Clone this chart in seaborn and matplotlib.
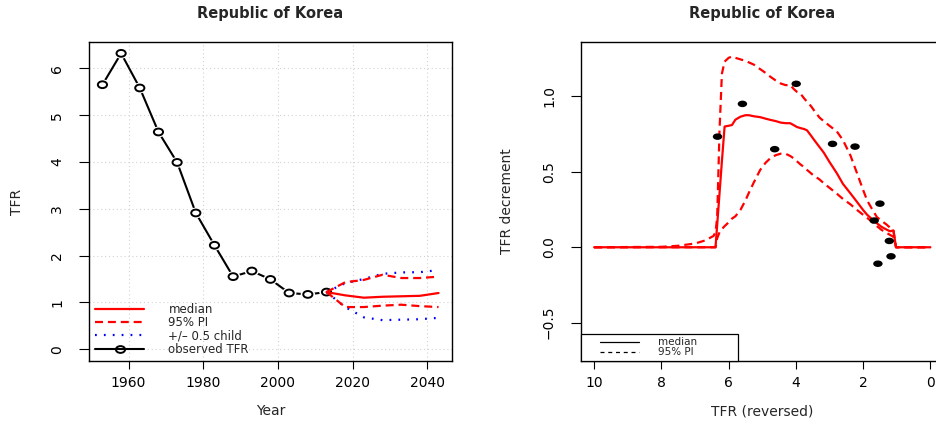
import matplotlib
matplotlib.use("Agg")
import matplotlib.pyplot as plt
from matplotlib.lines import Line2D
from matplotlib.markers import MarkerStyle
from matplotlib.transforms import Affine2D
from matplotlib.legend_handler import HandlerLine2D
import pandas as pd
import seaborn as sns

# ---- observed total fertility rate (five-year periods) ----
obs_years = [1953, 1958, 1963, 1968, 1973, 1978, 1983, 1988, 1993, 1998, 2003, 2008, 2013]
obs_tfr = [5.65, 6.32, 5.58, 4.64, 3.99, 2.91, 2.22, 1.55, 1.67, 1.49, 1.20, 1.17, 1.22]

# ---- projection ----
proj_years = [2013, 2018, 2023, 2028, 2033, 2038, 2043]
proj_median = [1.22, 1.15, 1.10, 1.12, 1.13, 1.14, 1.20]
proj_pi_low = [1.22, 0.90, 0.90, 0.93, 0.95, 0.92, 0.90]
proj_pi_high = [1.22, 1.43, 1.48, 1.59, 1.52, 1.52, 1.55]
proj_half_low = [1.22, 0.90, 0.68, 0.62, 0.63, 0.64, 0.67]
proj_half_high = [1.22, 1.41, 1.50, 1.61, 1.64, 1.645, 1.69]

# ---- decrement function on a TFR grid ----
dl_tfr = [10.0, 8.0, 7.5, 7.0, 6.7, 6.45, 6.39, 6.34, 6.27, 6.2, 6.12, 6.0, 5.9, 5.8,
          5.65, 5.5, 5.4, 5.25, 5.06, 4.9, 4.76, 4.6, 4.45, 4.3, 4.17, 4.07, 3.97,
          3.87, 3.75, 3.67, 3.55, 3.47, 3.3, 3.17, 3.0, 2.78, 2.6, 2.38, 2.18, 2.0,
          1.88, 1.7, 1.59, 1.45, 1.3, 1.2, 1.1, 1.02, 0.9, 0.0]
dl_median = [0, 0, 0, 0, 0, 0, 0, 0.15, 0.36, 0.57, 0.80, 0.805, 0.81, 0.845,
             0.865, 0.875, 0.875, 0.868, 0.862, 0.852, 0.844, 0.836, 0.826, 0.822, 0.822, 0.81, 0.797,
             0.79, 0.783, 0.775, 0.74, 0.715, 0.665, 0.627, 0.565, 0.49, 0.42, 0.358, 0.30, 0.247,
             0.215, 0.18, 0.159, 0.135, 0.117, 0.106, 0.112, 0.0, 0.0, 0.0]
dl_low = [0, 0, 0, 0, 0, 0, 0, 0.06, 0.10, 0.12, 0.14, 0.165, 0.19, 0.205,
          0.247, 0.31, 0.36, 0.43, 0.513, 0.56, 0.59, 0.61, 0.62, 0.619, 0.605, 0.59, 0.57,
          0.55, 0.53, 0.513, 0.49, 0.475, 0.45, 0.424, 0.394, 0.355, 0.32, 0.285, 0.247, 0.215,
          0.195, 0.162, 0.14, 0.115, 0.095, 0.082, 0.07, 0.0, 0.0, 0.0]
dl_high = [0, 0.003, 0.01, 0.025, 0.045, 0.075, 0.10, 0.20, 0.78, 1.15, 1.23, 1.255, 1.264, 1.255,
           1.245, 1.235, 1.225, 1.21, 1.18, 1.155, 1.13, 1.105, 1.085, 1.074, 1.076, 1.05, 1.03,
           1.02, 0.985, 0.965, 0.935, 0.91, 0.86, 0.835, 0.805, 0.767, 0.71, 0.61, 0.49, 0.38,
           0.31, 0.24, 0.20, 0.175, 0.15, 0.13, 0.115, 0.0, 0.0, 0.0]

# observed decrements (TFR at start of period, drop to next period)
dec_tfr = [6.33, 5.59, 4.63, 3.99, 2.91, 2.24, 1.56, 1.67, 1.50, 1.22, 1.17]
dec_value = [0.733, 0.950, 0.650, 1.083, 0.685, 0.667, -0.109, 0.177, 0.289, 0.042, -0.060]

country = "Republic of Korea"
RED = "#FF0000"
BLUE = "#0000FF"
DASH = (0, (3.6, 2.2))
DOT = (0, (0.8, 3.2))

sns.set_theme(style="ticks")
plt.rcParams["font.family"] = ["DejaVu Sans"]
plt.rcParams["axes.edgecolor"] = "black"
plt.rcParams["axes.linewidth"] = 1.0

obs = pd.DataFrame({"year": obs_years, "tfr": obs_tfr})
proj = pd.DataFrame({"year": proj_years, "median": proj_median,
                     "pi_low": proj_pi_low, "pi_high": proj_pi_high,
                     "half_low": proj_half_low, "half_high": proj_half_high})
dl = pd.DataFrame({"tfr": dl_tfr, "median": dl_median, "low": dl_low, "high": dl_high})
dec = pd.DataFrame({"tfr": dec_tfr, "dec": dec_value})

W, H = 937, 425
fig = plt.figure(figsize=(W / 100, H / 100), dpi=100)
ax1 = fig.add_axes([89 / W, 64 / H, 363 / W, 319 / H])
ax2 = fig.add_axes([580.7 / W, 64 / H, 363.1 / W, 319 / H])

oval = MarkerStyle("o", transform=Affine2D().scale(1.35, 1.0))
dot = MarkerStyle("o", transform=Affine2D().scale(1.45, 1.0))

# ---------------- left: TFR trajectory ----------------
ax1.grid(True, color="#D3D3D3", linestyle=(0, (1, 2.5)), linewidth=0.8)
ax1.set_axisbelow(True)
sns.lineplot(data=obs, x="year", y="tfr", ax=ax1, color="black", linewidth=1.5,
             estimator=None, sort=False, zorder=2)
sns.scatterplot(data=obs, x="year", y="tfr", ax=ax1, marker=oval, s=60,
                color="white", edgecolor="none", linewidth=0, zorder=3)
sns.scatterplot(data=obs, x="year", y="tfr", ax=ax1, marker=oval, s=24,
                facecolor="none", edgecolor="black", linewidth=1.4, zorder=4)
for col, color, ls in [("half_low", BLUE, DOT), ("half_high", BLUE, DOT),
                       ("pi_low", RED, DASH), ("pi_high", RED, DASH),
                       ("median", RED, "-")]:
    sns.lineplot(data=proj, x="year", y=col, ax=ax1, color=color, linewidth=1.6,
                 linestyle=ls, estimator=None, sort=False, zorder=5)

ax1.set_xlim(1949.4, 2046.6)
ax1.set_ylim(-0.2524, 6.5624)
ax1.set_xticks([1960, 1980, 2000, 2020, 2040])
ax1.set_yticks([0, 1, 2, 3, 4, 5, 6])

fs_leg = 8.5
h_med = Line2D([], [], color=RED, linewidth=1.6)
h_pi = Line2D([], [], color=RED, linewidth=1.6, linestyle=DASH)
h_half = Line2D([], [], color=BLUE, linewidth=1.6, linestyle=DOT)
h_obs = Line2D([], [], color="black", linewidth=1.5, marker=oval, markersize=4.9,
               markerfacecolor="none", markeredgecolor="black", markeredgewidth=1.4)
ax1.legend([h_med, h_pi, h_half, h_obs],
           ["median", "95% PI", "+/\u2013 0.5 child", "observed TFR"],
           loc="lower left", bbox_to_anchor=(0, 0), borderaxespad=0,
           frameon=False, fontsize=fs_leg, borderpad=0.45, labelspacing=0.02,
           handlelength=4.25, handletextpad=2.03,
           handler_map={Line2D: HandlerLine2D(xpad=0.08)})

# ---------------- right: decrement function ----------------
for col, ls in [("high", DASH), ("low", DASH), ("median", "-")]:
    sns.lineplot(data=dl, x="tfr", y=col, ax=ax2, color=RED, linewidth=1.6,
                 linestyle=ls, estimator=None, sort=False, zorder=3)
sns.scatterplot(data=dec, x="tfr", y="dec", ax=ax2, marker=dot, s=22,
                color="black", edgecolor="none", linewidth=0, zorder=4)

ax2.set_xlim(10.4, -0.4)
ax2.set_ylim(-0.7535, 1.360)
ax2.set_xticks([10, 8, 6, 4, 2, 0])
ax2.set_yticks([-0.5, 0.0, 0.5, 1.0])
ax2.set_yticklabels(["\u22120.5", "0.0", "0.5", "1.0"])

fs_leg2 = 7.5
g_med = Line2D([], [], color="black", linewidth=0.9)
g_pi = Line2D([], [], color="black", linewidth=0.9, linestyle=(0, (3.2, 3.0)))
leg2 = ax2.legend([g_med, g_pi], ["median", "95% PI"],
                  loc="lower left", bbox_to_anchor=(0, 0, 0.432, 0.094), mode="expand",
                  borderaxespad=0, fontsize=fs_leg2, borderpad=0.35, labelspacing=0.02,
                  handlelength=5.23, handletextpad=1.8, fancybox=False,
                  edgecolor="black", framealpha=1,
                  handler_map={Line2D: HandlerLine2D(xpad=1.48)})
leg2.get_frame().set_linewidth(0.9)

# ---------------- shared axis styling ----------------
for ax, xlab, ylab, ylab_x in [(ax1, "Year", "TFR", -0.198),
                               (ax2, "TFR (reversed)", "TFR decrement", -0.203)]:
    for side in ["top", "right", "left", "bottom"]:
        ax.spines[side].set_visible(True)
        ax.spines[side].set_color("black")
        ax.spines[side].set_linewidth(1.0)
    ax.tick_params(axis="x", direction="out", length=5.8, width=0.8, pad=5,
                   labelsize=10, colors="black", bottom=True)
    ax.tick_params(axis="y", direction="out", length=7.5, width=0.8, pad=10.3,
                   labelsize=10, colors="black", left=True, labelrotation=90)
    for lbl in ax.get_yticklabels():
        lbl.set_va("center")
        lbl.set_ha("right")
    ax.set_xlabel(xlab, fontsize=10)
    ax.set_ylabel(ylab, fontsize=10)
    ax.xaxis.set_label_coords(0.5, -0.157)
    ax.xaxis.label.set_va("center")
    ax.yaxis.set_label_coords(ylab_x, 0.5)
    ax.yaxis.label.set_va("center")
    ax.set_title(country, fontsize=10.5, fontweight="bold", y=1.089, va="center", pad=0)

fig.savefig("out.png", dpi=100)
